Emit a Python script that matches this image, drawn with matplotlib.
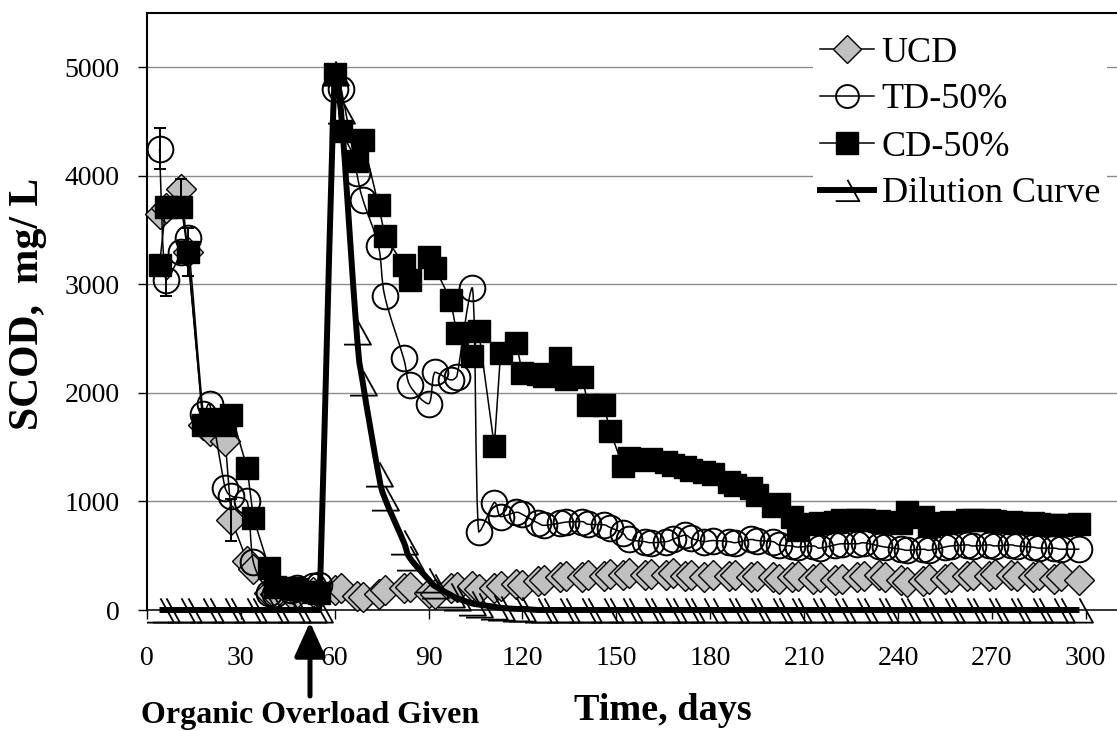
import numpy as np
import matplotlib
matplotlib.use("Agg")
import matplotlib.pyplot as plt
from matplotlib.path import Path
from matplotlib.patches import PathPatch
from matplotlib.lines import Line2D

plt.rcParams['font.family'] = ['Liberation Serif', 'DejaVu Serif']

# sampling days (twice a week)
days = [4, 6, 11, 13, 18, 20, 25, 27, 32, 34,
        39, 41, 46, 48, 53, 55, 60, 62, 67, 69,
        74, 76, 82, 84, 90, 92, 97, 99, 104, 106,
        111, 113, 118, 120, 125, 127, 132, 134, 139, 141,
        146, 148, 152, 154, 159, 161, 166, 168, 172, 174,
        178, 181, 186, 188, 193, 195, 200, 202, 206, 208,
        213, 215, 220, 222, 227, 229, 234, 236, 241, 243,
        248, 250, 255, 257, 262, 264, 269, 271, 276, 278,
        283, 285, 290, 292, 298]

# SCOD, mg/L
ucd = [3650, 3700, 3880, 3300, 1700, 1650, 1560, 830, 450, 380,
       160, 150, 150, 160, 170, 160, 180, 200, 130, 120,
       150, 180, 200, 210, 160, 150, 200, 210, 220, 190,
       200, 220, 240, 230, 270, 280, 300, 310, 300, 320,
       310, 330, 320, 340, 320, 330, 320, 340, 310, 320,
       300, 320, 310, 320, 300, 310, 300, 290, 300, 310,
       290, 300, 280, 290, 300, 310, 320, 300, 280, 260,
       270, 290, 290, 300, 310, 320, 310, 330, 320, 310,
       300, 320, 290, 310, 280]

td50 = [4250, 3040, 3300, 3430, 1810, 1900, 1120, 1050, 1000, 440,
        160, 150, 180, 200, 220, 230, 4800, 4800, 4030, 3780,
        3350, 2890, 2320, 2070, 1900, 2190, 2120, 2150, 2970, 720,
        990, 860, 900, 880, 800, 780, 800, 810, 815, 790,
        785, 760, 710, 650, 630, 620, 630, 650, 690, 660,
        630, 640, 630, 620, 650, 640, 630, 600, 590, 580,
        590, 570, 600, 610, 610, 620, 590, 580, 560, 550,
        560, 550, 580, 590, 600, 590, 600, 590, 600, 590,
        580, 570, 570, 560, 560]

cd50 = [3180, 3710, 3710, 3300, 1700, 1760, 1700, 1800, 1310, 850,
        390, 210, 200, 190, 170, 160, 4940, 4410, 4140, 4330,
        3730, 3450, 3180, 3040, 3250, 3150, 2860, 2550, 2340, 2570,
        1510, 2370, 2460, 2180, 2170, 2160, 2320, 2130, 2150, 1890,
        1890, 1650, 1330, 1400, 1380, 1390, 1360, 1340, 1320, 1290,
        1270, 1250, 1180, 1150, 1120, 1060, 960, 980, 860, 740,
        790, 800, 810, 830, 830, 830, 820, 810, 800, 900,
        860, 770, 800, 810, 830, 830, 830, 820, 810, 800,
        800, 790, 780, 780, 790]

dilution = [0, 0, 0, 0, 0, 0, 0, 0, 0, 0,
            0, 0, 0, 0, 0, 0, 4950, 4600, 2560, 2090,
            1250, 1030, 630, 480, 280, 220, 140, 110, 60, 50,
            30, 20, 10, 10, 0, 0, 0, 0, 0, 0,
            0, 0, 0, 0, 0, 0, 0, 0, 0, 0,
            0, 0, 0, 0, 0, 0, 0, 0, 0, 0,
            0, 0, 0, 0, 0, 0, 0, 0, 0, 0,
            0, 0, 0, 0, 0, 0, 0, 0, 0, 0,
            0, 0, 0, 0, 0]

# standard deviations, keyed by day
ucd_sd = {11: 90, 27: 195}
td_sd = {4: 190, 6: 145}
cd_sd = {13: 220}

xticks = [0, 30, 60, 90, 120, 150, 180, 210, 240, 270, 300]
yticks = [0, 1000, 2000, 3000, 4000, 5000]


def smooth(x, y):
    # smoothed line: cubic Bezier through the points, no overshoot
    p = np.column_stack([x, y]).astype(float)
    n = len(p)
    verts = [p[0]]
    codes = [Path.MOVETO]
    for i in range(n - 1):
        a = p[max(i - 1, 0)]
        b = p[i]
        c = p[i + 1]
        d = p[min(i + 2, n - 1)]
        lo, hi = min(b[1], c[1]), max(b[1], c[1])
        c1 = b + (c - a) / 6.0
        c2 = c - (d - b) / 6.0
        c1[1] = np.clip(c1[1], lo, hi)
        c2[1] = np.clip(c2[1], lo, hi)
        verts += [c1, c2, c]
        codes += [Path.CURVE4] * 3
    return Path(verts, codes)


def errbars(ax, sd, series, z):
    xs = [d for d in sd]
    ys = [series[days.index(d)] for d in sd]
    es = [sd[d] for d in sd]
    ax.errorbar(xs, ys, yerr=es, fmt='none', ecolor='k', elinewidth=1.4,
                capsize=4.6, capthick=1.4, zorder=z)


# open triangle marker (base + right side)
tri = Path([(-1.0, -0.9), (1.0, -0.9), (0.0, 0.9)],
           [Path.MOVETO, Path.LINETO, Path.LINETO])

fig = plt.figure(figsize=(11.17, 7.31), dpi=100)
ax = fig.add_axes([147/1117, 121/731, 970/1117, 597/731])

# UCD
ax.plot(days, ucd, color='k', lw=1.1, zorder=3)
ax.plot(days, ucd, ls='none', marker='D', ms=15, mfc='#c0c0c0', mec='k',
        mew=1.0, zorder=3.1, clip_on=False)
errbars(ax, ucd_sd, ucd, 3.2)

# TD-50%
ax.add_patch(PathPatch(smooth(days, td50), fill=False, ec='k', lw=1.1, zorder=4))
ax.plot(days, td50, ls='none', marker='o', ms=18.5, mfc='none', mec='k',
        mew=1.4, zorder=4.1, clip_on=False)
errbars(ax, td_sd, td50, 4.2)

# CD-50%
ax.plot(days, cd50, color='k', lw=1.1, zorder=5)
ax.plot(days, cd50, ls='none', marker='s', ms=16.5, mfc='k', mec='k',
        mew=1.0, zorder=5.1, clip_on=False)
errbars(ax, cd_sd, cd50, 5.2)

# dilution curve
ax.add_patch(PathPatch(smooth(days, dilution), fill=False, ec='k', lw=4.3,
                       zorder=6, clip_on=False, capstyle='butt'))
ax.plot(days, dilution, ls='none', marker=tri, ms=19.4, mfc='none', mec='k',
        mew=1.3, zorder=6.1, clip_on=False)

ax.set_xlim(0, 310)
ax.set_ylim(0, 5500)
ax.set_xticks(xticks)
ax.set_yticks(yticks)
ax.yaxis.grid(True, color='#8c8c8c', lw=1.0)
ax.set_axisbelow(True)
ax.spines['right'].set_visible(False)
ax.spines['left'].set_linewidth(1.5)
ax.spines['top'].set_linewidth(1.5)
ax.spines['bottom'].set_linewidth(1.1)
ax.tick_params(axis='both', direction='out', length=6.5, width=1.0, labelsize=20)
ax.tick_params(axis='x', pad=19.5)
ax.tick_params(axis='y', pad=13)

fig.text(28/1117, 1 - 304/731, 'SCOD,  mg/ L', rotation=90, ha='center',
         va='center', fontsize=30, fontweight='bold')
fig.text(663/1117, 1 - 720/731, 'Time, days', ha='center', va='baseline',
         fontsize=27.5, fontweight='bold')
fig.text(310/1117, 1 - 723/731, 'Organic Overload Given', ha='center',
         va='baseline', fontsize=23, fontweight='bold')
ax.annotate('', xy=(310, 731 - 622), xytext=(310, 731 - 696),
            xycoords='figure pixels', textcoords='figure pixels',
            arrowprops=dict(arrowstyle='-|>,head_length=0.42,head_width=0.19',
                            lw=3.6, color='k', shrinkA=0, shrinkB=0,
                            mutation_scale=50))

handles = [
    Line2D([], [], color='k', lw=1.1, marker='D', ms=14, mfc='#c0c0c0', mec='k', mew=1.0),
    Line2D([], [], color='k', lw=1.1, marker='o', ms=16.5, mfc='none', mec='k', mew=1.4),
    Line2D([], [], color='k', lw=1.1, marker='s', ms=15.5, mfc='k', mec='k'),
    Line2D([], [], color='k', lw=4.3, marker=tri, ms=17, mfc='none', mec='k', mew=1.3),
]
labels = ['UCD', 'TD-50%', 'CD-50%', 'Dilution Curve']
leg = ax.legend(handles, labels, loc='upper left',
                bbox_to_anchor=(813/1117, 1 - 29/731), bbox_transform=fig.transFigure,
                fontsize=26, frameon=True, fancybox=False, framealpha=1,
                facecolor='white', edgecolor='none', borderpad=0.2,
                borderaxespad=0, handlelength=1.5, handletextpad=0.2,
                labelspacing=0.38, numpoints=1)
leg.set_zorder(10)

fig.savefig('out.png', dpi=100)
